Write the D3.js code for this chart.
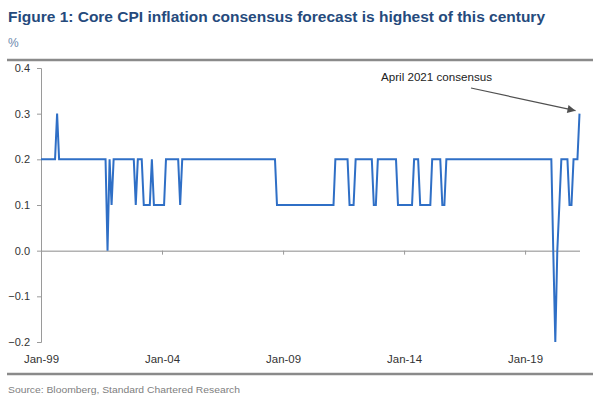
<!DOCTYPE html>
<html>
<head>
<meta charset="utf-8">
<script src="https://cdn.jsdelivr.net/npm/d3@7"></script>
<style>
  html, body { margin: 0; padding: 0; background: #fff; }
  svg { display: block; font-family: "Liberation Sans", Arial, sans-serif; }
</style>
</head>
<body>
<svg id="chart" width="600" height="400"></svg>
<script>
// ---- Data (monthly consensus, % m/m), Jan-1999 .. Apr-2021 ----
const startYear = 1999;
const values1999 = [0.2,0.2,0.2,0.2,0.2,0.2,0.2,0.2,0.3,0.2,0.2,0.2];
const values2000 = [0.2,0.2,0.2,0.2,0.2,0.2,0.2,0.2,0.2,0.2,0.2,0.2];
const values2001 = [0.2,0.2,0.2,0.2,0.2,0.2,0.2,0.2,0.2,0.0,0.2,0.1];
const values2002 = [0.2,0.2,0.2,0.2,0.2,0.2,0.2,0.2,0.2,0.2,0.2,0.1];
const values2003 = [0.2,0.2,0.2,0.1,0.1,0.1,0.1,0.2,0.1,0.1,0.1,0.1];
const values2004 = [0.1,0.1,0.2,0.2,0.2,0.2,0.2,0.2,0.2,0.1,0.2,0.2];
const values2005 = [0.2,0.2,0.2,0.2,0.2,0.2,0.2,0.2,0.2,0.2,0.2,0.2];
const values2006 = [0.2,0.2,0.2,0.2,0.2,0.2,0.2,0.2,0.2,0.2,0.2,0.2];
const values2007 = [0.2,0.2,0.2,0.2,0.2,0.2,0.2,0.2,0.2,0.2,0.2,0.2];
const values2008 = [0.2,0.2,0.2,0.2,0.2,0.2,0.2,0.2,0.2,0.1,0.1,0.1];
const values2009 = [0.1,0.1,0.1,0.1,0.1,0.1,0.1,0.1,0.1,0.1,0.1,0.1];
const values2010 = [0.1,0.1,0.1,0.1,0.1,0.1,0.1,0.1,0.1,0.1,0.1,0.1];
const values2011 = [0.1,0.1,0.2,0.2,0.2,0.2,0.2,0.2,0.2,0.1,0.1,0.1];
const values2012 = [0.2,0.2,0.2,0.2,0.2,0.2,0.2,0.2,0.2,0.1,0.1,0.2];
const values2013 = [0.2,0.2,0.2,0.2,0.2,0.2,0.2,0.2,0.2,0.1,0.1,0.1];
const values2014 = [0.1,0.1,0.1,0.1,0.1,0.2,0.2,0.2,0.1,0.1,0.1,0.1];
const values2015 = [0.1,0.1,0.2,0.2,0.2,0.2,0.2,0.1,0.1,0.2,0.2,0.2];
const values2016 = [0.2,0.2,0.2,0.2,0.2,0.2,0.2,0.2,0.2,0.2,0.2,0.2];
const values2017 = [0.2,0.2,0.2,0.2,0.2,0.2,0.2,0.2,0.2,0.2,0.2,0.2];
const values2018 = [0.2,0.2,0.2,0.2,0.2,0.2,0.2,0.2,0.2,0.2,0.2,0.2];
const values2019 = [0.2,0.2,0.2,0.2,0.2,0.2,0.2,0.2,0.2,0.2,0.2,0.2];
const values2020 = [0.2,0.2,0.0,-0.2,0.0,0.1,0.2,0.2,0.2,0.2,0.1,0.1];
const values2021 = [0.2,0.2,0.2,0.3];

const yTicks = [-0.2,-0.1,0.0,0.1,0.2,0.3,0.4];
const xTickLabels = ["Jan-99","Jan-04","Jan-09","Jan-14","Jan-19"];
const xTickYears = [1999,2004,2009,2014,2019];

const titleText = "Figure 1: Core CPI inflation consensus forecast is highest of this century";
const unitText = "%";
const sourceText = "Source: Bloomberg, Standard Chartered Research";
const annotationText = "April 2021 consensus";

// ---- Build series ----
const allYears = [values1999,values2000,values2001,values2002,values2003,values2004,values2005,
  values2006,values2007,values2008,values2009,values2010,values2011,values2012,values2013,
  values2014,values2015,values2016,values2017,values2018,values2019,values2020,values2021];
const series = [];
allYears.forEach((arr, yi) => arr.forEach((v, mi) => series.push({date: new Date(startYear + yi, mi, 1), value: v})));

// ---- Layout ----
const svg = d3.select("#chart");
const plot = {left: 41, right: 579.5, top: 68, bottom: 342};

const x = d3.scaleTime()
  .domain([series[0].date, series[series.length - 1].date])
  .range([plot.left, plot.right]);
const y = d3.scaleLinear().domain([-0.2, 0.4]).range([plot.bottom, plot.top]);

// Title & unit
svg.append("text").attr("x", 8).attr("y", 22)
  .attr("font-size", 14).attr("font-weight", "bold").attr("fill", "#254a7c")
  .attr("textLength", 537).attr("lengthAdjust", "spacingAndGlyphs")
  .text(titleText);
svg.append("text").attr("x", 8).attr("y", 47)
  .attr("font-size", 12).attr("fill", "#6d88ad").text(unitText);

// Rules
svg.append("line").attr("x1", 7).attr("x2", 593).attr("y1", 60).attr("y2", 60)
  .attr("stroke", "#8a8a8a").attr("stroke-width", 2.5);
svg.append("line").attr("x1", 7).attr("x2", 593).attr("y1", 374).attr("y2", 374)
  .attr("stroke", "#8a8a8a").attr("stroke-width", 2.5);

// Y axis
const yAxis = d3.axisLeft(y).tickValues(yTicks).tickFormat(d3.format(".1f")).tickSize(4).tickPadding(7);
const gy = svg.append("g").attr("transform", `translate(${plot.left},0)`).call(yAxis);
gy.select(".domain").attr("stroke", "#9a9a9a");
gy.selectAll(".tick line").attr("stroke", "#9a9a9a");
gy.selectAll(".tick text").attr("font-size", 11).attr("fill", "#333")
  .attr("font-family", "'Liberation Sans', Arial, sans-serif");

// X axis at zero line (ticks only)
const xTickDates = xTickYears.map(yr => new Date(yr, 0, 1));
const xAxisZero = d3.axisBottom(x).tickValues(xTickDates).tickFormat("").tickSize(4).tickSizeOuter(0);
const gx0 = svg.append("g").attr("transform", `translate(0,${y(0)})`).call(xAxisZero);
gx0.select(".domain").attr("stroke", "#8a8a8a");
gx0.selectAll(".tick line").attr("stroke", "#9a9a9a");

// X labels (low position)
const xAxisLabels = d3.axisBottom(x).tickValues(xTickDates)
  .tickFormat((d, i) => xTickLabels[i]).tickSize(0).tickPadding(0);
const gxl = svg.append("g").attr("transform", `translate(0,355)`).call(xAxisLabels);
gxl.select(".domain").remove();
gxl.selectAll(".tick text").attr("font-size", 11.5).attr("fill", "#333")
  .attr("font-family", "'Liberation Sans', Arial, sans-serif")
  .attr("textLength", 35).attr("lengthAdjust", "spacingAndGlyphs");

// Line
const line = d3.line().x(d => x(d.date)).y(d => y(d.value));
svg.append("path").datum(series)
  .attr("fill", "none").attr("stroke", "#2f6fc6").attr("stroke-width", 2)
  .attr("stroke-linejoin", "miter").attr("d", line);

// Annotation
svg.append("defs").append("marker").attr("id", "arrow")
  .attr("viewBox", "0 0 10 10").attr("refX", 10).attr("refY", 5)
  .attr("markerWidth", 9).attr("markerHeight", 8).attr("markerUnits", "userSpaceOnUse")
  .attr("orient", "auto")
  .append("path").attr("d", "M0,0 L10,5 L0,10 Z").attr("fill", "#505050");
svg.append("text").attr("x", 381).attr("y", 81)
  .attr("font-size", 11.5).attr("fill", "#222")
  .attr("textLength", 111).attr("lengthAdjust", "spacingAndGlyphs")
  .text(annotationText);
const last = series[series.length - 1];
svg.append("line")
  .attr("x1", 471).attr("y1", 88)
  .attr("x2", x(last.date) - 4).attr("y2", y(last.value) - 3)
  .attr("stroke", "#505050").attr("stroke-width", 1.2)
  .attr("marker-end", "url(#arrow)");

// Source
svg.append("text").attr("x", 8).attr("y", 393)
  .attr("font-size", 9.5).attr("fill", "#808080")
  .attr("textLength", 232).attr("lengthAdjust", "spacingAndGlyphs")
  .text(sourceText);
</script>
</body>
</html>
